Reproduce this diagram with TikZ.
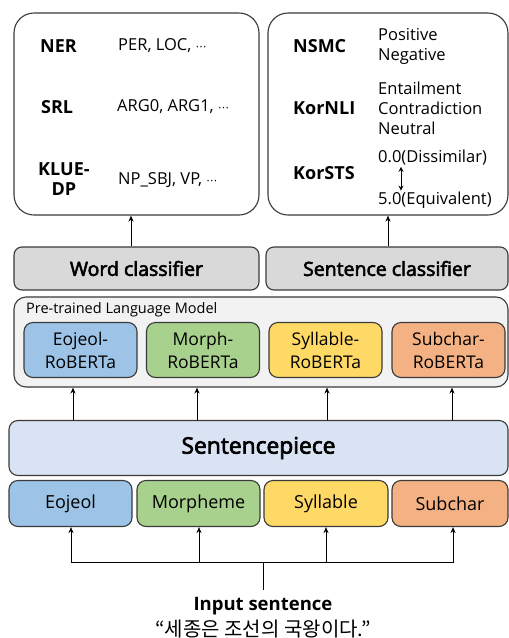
\documentclass[tikz,border=0pt]{standalone}
\usepackage{fontspec}
\setmainfont{Open Sans}
\newfontfamily\med[FakeBold=3]{Open Sans}
\newfontfamily\kr{Noto Sans CJK KR}
\newfontfamily\dvs{DejaVu Sans}
\usetikzlibrary{arrows.meta}
\definecolor{edge}{HTML}{3A3A3A}
\definecolor{cblue}{HTML}{9DC3E6}
\definecolor{cgreen}{HTML}{A9D18E}
\definecolor{cyellow}{HTML}{FFD966}
\definecolor{corange}{HTML}{F4B183}
\definecolor{cspiece}{HTML}{DAE3F3}
\definecolor{cgray}{HTML}{D9D9D9}
\definecolor{cplm}{HTML}{F2F2F2}
\newcommand{\mydots}{{\dvs\fontsize{11}{12}\selectfont ⋯}}
\tikzset{
  bigbox/.style={draw=edge, line width=1.1pt, rounded corners=20pt, fill=white},
  clsbox/.style={draw=edge, line width=1.1pt, rounded corners=8pt, fill=cgray, font=\med\fontsize{19.5}{21}\selectfont},
  modbox/.style={draw=edge, line width=1.1pt, rounded corners=9pt, align=center, font=\fontsize{17.5}{23}\selectfont, minimum width=113pt, minimum height=55pt, inner sep=0pt},
  tokbox/.style={draw=edge, line width=1.1pt, rounded corners=9pt, font=\fontsize{18}{19}\selectfont, minimum height=46pt, inner sep=0pt},
  task/.style={anchor=west, font=\fontsize{18}{19.5}\selectfont\bfseries, align=center, inner sep=0pt},
  lab/.style={anchor=west, font=\fontsize{16.5}{20}\selectfont, align=left, inner sep=0pt},
  arr/.style={draw=black, line width=1pt, -{Stealth[length=6pt,width=5pt]}},
  ln/.style={draw=black, line width=1pt}
}
\begin{document}
\begin{tikzpicture}[x=1pt,y=-1pt]
\useasboundingbox (0,0) rectangle (509,638);
% top boxes
\node[bigbox, minimum width=245pt, minimum height=202pt] (left) at (136.5,114) {};
\node[bigbox, minimum width=240pt, minimum height=202pt] (right) at (388,114) {};
% left texts
\node[task] (ner) at (40,46) {NER};
\node[lab] (nerl) at (118,46) {PER, LOC, \mydots};
\node[task] (srl) at (41,107) {SRL};
\node[lab] (srll) at (117,107) {ARG0, ARG1, \mydots};
\node[task] (klue) at (38,179) {KLUE-\\DP};
\node[lab] (kluel) at (118,180) {NP\_SBJ, VP, \mydots};
% right texts
\node[task] (nsmc) at (293,46) {NSMC};
\node[lab] (nsmcl) at (378,46) {Positive\\Negative};
\node[lab] (nlil) at (378,108) {Entailment\\Contradiction\\Neutral};
\node[task] (nli) at (293,108) {KorNLI};
\node[task] (sts) at (293,173) {KorSTS};
\node[lab] (sts0) at (378,158) {0.0(Dissimilar)};
\node[lab] (sts5) at (378,200) {5.0(Equivalent)};
\draw[line width=1pt, {Stealth[length=5pt,width=5pt]}-{Stealth[length=5pt,width=5pt]}, shorten <=1pt, shorten >=1pt] (sts0.south -| 401,0) -- (sts5.north -| 401,0);
% classifiers
\node[clsbox, minimum width=245pt, minimum height=43pt] (word) at (136.5,268.5) {Word classifier};
\node[clsbox, minimum width=242pt, minimum height=43pt] (sent) at (387,268.5) {Sentence classifier};
\draw[arr] (word.north -| 131,0) -- (left.south -| 131,0);
\draw[arr] (sent.north -| 388,0) -- (right.south -| 388,0);
% PLM
\node[draw=edge, line width=1.1pt, rounded corners=12pt, fill=cplm, minimum width=494pt, minimum height=90pt] (plm) at (261,342) {};
\node[anchor=west, inner sep=0pt, font=\fontsize{14.5}{16}\selectfont] (plmlab) at (26,310) {Pre-trained Language Model};
\node[modbox, fill=cblue] (m1) at (80.5,350) {Eojeol-\\RoBERTa};
\node[modbox, fill=cgreen] (m2) at (203,350) {Morph-\\RoBERTa};
\node[modbox, fill=cyellow] (m3) at (325.5,350) {Syllable-\\RoBERTa};
\node[modbox, fill=corange] (m4) at (448.5,350) {Subchar-\\RoBERTa};
% sentencepiece
\node[draw=edge, line width=1.1pt, rounded corners=9pt, fill=cspiece, minimum width=499pt, minimum height=55pt, font=\med\fontsize{22.8}{25}\selectfont] (sp) at (258.5,448) {Sentencepiece};
\draw[arr] (sp.north -| 73,0) -- (plm.south -| 73,0);
\draw[arr] (sp.north -| 197,0) -- (plm.south -| 197,0);
\draw[arr] (sp.north -| 327,0) -- (plm.south -| 327,0);
\draw[arr] (sp.north -| 452,0) -- (plm.south -| 452,0);
% tokenizers
\node[tokbox, fill=cblue, minimum width=123pt] (t1) at (70.5,503.5) {Eojeol};
\node[tokbox, fill=cgreen, minimum width=123pt] (t2) at (198.5,503.5) {Morpheme};
\node[tokbox, fill=cyellow, minimum width=124pt] (t3) at (326,503.5) {Syllable};
\node[tokbox, fill=corange, minimum width=116pt] (t4) at (450,503.5) {Subchar};
% input
\node[inner sep=0pt, font=\fontsize{18.5}{20}\selectfont\bfseries] (inp) at (263,606) {Input sentence};
\node[inner sep=0pt, font=\kr\fontsize{20}{22}\selectfont] (kor) at (263,629) {“세종은 조선의 국왕이다.”};
\coordinate (hub) at (263,562);
\draw[ln] (inp.north -| hub) ++(0,-7) -- (hub);
\draw[arr] (hub) -| (t1.south -| 71,0);
\draw[arr] (hub) -| (t2.south -| 199,0);
\draw[arr] (hub) -| (t3.south -| 326,0);
\draw[arr] (hub) -| (t4.south -| 453,0);
\end{tikzpicture}
\end{document}
